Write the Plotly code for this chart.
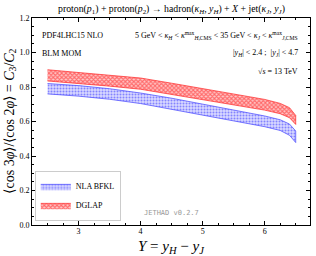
import plotly.graph_objects as go

Y = [2.5, 3.0, 3.5, 4.0, 4.5, 5.0, 5.5, 6.0, 6.25, 6.4, 6.5]
dglap_up = [0.900, 0.885, 0.870, 0.852, 0.822, 0.790, 0.760, 0.728, 0.705, 0.680, 0.635]
dglap_lo = [0.835, 0.820, 0.805, 0.787, 0.757, 0.726, 0.697, 0.666, 0.645, 0.622, 0.583]
bfkl_up = [0.820, 0.808, 0.790, 0.765, 0.735, 0.700, 0.665, 0.632, 0.610, 0.585, 0.545]
bfkl_lo = [0.760, 0.747, 0.729, 0.704, 0.673, 0.638, 0.603, 0.570, 0.548, 0.520, 0.478]

y_tickvals = [0.0, 0.2, 0.4, 0.6, 0.8, 1.0, 1.2]
y_ticktext = ["0.0", "0.2", "0.4", "0.6", "0.8", "1.0", "1.2"]
x_tickvals = [3, 4, 5, 6]
x_ticktext = ["3", "4", "5", "6"]

SERIF = "Liberation Serif"

fig = go.Figure()
fig.add_trace(go.Scatter(
    x=Y + Y[::-1], y=bfkl_up + bfkl_lo[::-1], fill="toself", mode="lines",
    line=dict(color="rgba(70,70,255,0.9)", width=0.8),
    fillcolor="rgba(170,170,255,0.6)",
    fillpattern=dict(shape=".", fgcolor="#3030ff", bgcolor="rgba(190,190,255,0.6)", size=3, solidity=0.35),
    name="NLA BFKL"))
fig.add_trace(go.Scatter(
    x=Y + Y[::-1], y=dglap_up + dglap_lo[::-1], fill="toself", mode="lines",
    line=dict(color="rgba(255,40,40,0.9)", width=0.8),
    fillcolor="rgba(255,80,80,0.7)",
    fillpattern=dict(shape="x", fgcolor="#ff1010", bgcolor="rgba(255,160,160,0.6)", size=3, solidity=0.6),
    name="DGLAP"))

axis_common = dict(
    showline=True, linecolor="black", linewidth=1, mirror="allticks",
    ticks="inside", ticklen=4, tickcolor="black", showgrid=False, zeroline=False,
    tickfont=dict(family=SERIF, size=8, color="black"), showticklabels=True,
    ticklabeloverflow="allow",
)
fig.update_xaxes(range=[2.25, 6.73], tickmode="array", tickvals=x_tickvals, ticktext=x_ticktext,
                 ticklabelstandoff=-2,
                 minor=dict(ticks="inside", ticklen=2, dtick=0.25, tick0=3, tickcolor="black"),
                 **axis_common)
fig.update_yaxes(range=[0, 1.2], tickmode="array", tickvals=y_tickvals, ticktext=y_ticktext,
                 minor=dict(ticks="inside", ticklen=2, dtick=0.05, tick0=0, tickcolor="black"),
                 **axis_common)

f8 = dict(family=SERIF, size=8, color="black")
anns = [
    dict(x=0.5, y=1.0, yanchor="bottom", yshift=1, xref="paper", yref="paper", showarrow=False,
         text="proton(<i>p</i><sub>1</sub>) + proton(<i>p</i><sub>2</sub>) → hadron(<i>κ<sub>H</sub></i>, <i>y<sub>H</sub></i>) + <i>X</i> + jet(<i>κ<sub>J</sub></i>, <i>y<sub>J</sub></i>)",
         font=dict(family=SERIF, size=9.8, color="black")),
    dict(x=0.03, y=0.915, xanchor="left", yanchor="middle", xref="paper", yref="paper", showarrow=False,
         text="PDF4LHC15 NLO", font=f8),
    dict(x=0.03, y=0.83, xanchor="left", yanchor="middle", xref="paper", yref="paper", showarrow=False,
         text="BLM MOM", font=f8),
    dict(x=0.965, y=0.915, xanchor="right", yanchor="middle", xref="paper", yref="paper", showarrow=False,
         text="5 GeV < <i>κ<sub>H</sub></i> < <i>κ</i><sup>max</sup><sub><i>H</i>,CMS</sub> < 35 GeV < <i>κ<sub>J</sub></i> < <i>κ</i><sup>max</sup><sub><i>J</i>,CMS</sub>",
         font=dict(family=SERIF, size=8, color="black")),
    dict(x=0.965, y=0.83, xanchor="right", yanchor="middle", xref="paper", yref="paper", showarrow=False,
         text="|<i>y<sub>H</sub></i>| < 2.4 ;  |<i>y<sub>J</sub></i>| < 4.7", font=f8),
    dict(x=0.965, y=0.74, xanchor="right", yanchor="middle", xref="paper", yref="paper", showarrow=False,
         text="√<i>s</i> = 13 TeV", font=f8),
    dict(x=0.5, y=0.058, xref="paper", yref="paper", showarrow=False, yanchor="middle",
         text="JETHAD v0.2.7",
         font=dict(family="DejaVu Sans Mono", size=7, color="#999999")),
    dict(x=0.5, y=0, xref="paper", yref="paper", showarrow=False, yanchor="top", yshift=-11,
         text="<i>Y</i> = <i>y<sub>H</sub></i> − <i>y<sub>J</sub></i>",
         font=dict(family=SERIF, size=15, color="black")),
    dict(x=0, y=0.5, xref="paper", yref="paper", showarrow=False, xanchor="center", xshift=-22,
         textangle=-90,
         text="⟨cos 3<i>φ</i>⟩/⟨cos 2<i>φ</i>⟩ = <i>C</i><sub>3</sub>/<i>C</i><sub>2</sub>",
         font=dict(family=SERIF, size=14, color="black")),
]

fig.update_layout(
    width=316, height=256, autosize=False,
    margin=dict(l=32, r=6, t=18, b=31, pad=0),
    paper_bgcolor="white", plot_bgcolor="white",
    annotations=anns,
    showlegend=True,
    legend=dict(x=0.01, y=0.02, xanchor="left", yanchor="bottom",
                bordercolor="#cccccc", borderwidth=1, bgcolor="white",
                font=dict(family=SERIF, size=8, color="black"),
                tracegroupgap=0, itemwidth=30),
)

fig.write_html("out.html", config={"displayModeBar": False},
               post_script="document.body.style.margin='0px';")
